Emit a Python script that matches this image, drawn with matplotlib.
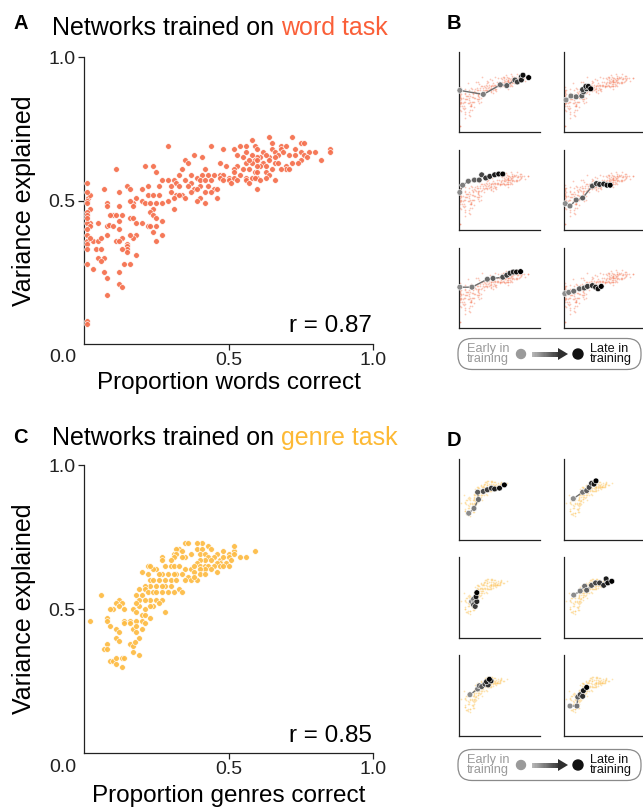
import numpy as np
import matplotlib
matplotlib.use("Agg")
import matplotlib.pyplot as plt
from matplotlib.patches import FancyBboxPatch, Polygon, Rectangle, Circle

plt.rcParams['font.family'] = ['Liberation Sans', 'DejaVu Sans']

W, H = 643, 807

# Panel A: word task networks (proportion words correct vs variance explained)
word_x = [
    0.29, 0.44, 0.48, 0.38, 0.41, 0.35, 0.36, 0.11, 0.21, 0.24,
    0.25, 0.47, 0.49, 0.42, 0.34, 0.33, 0.37, 0.39, 0.41, 0.43,
    0.45, 0.47, 0.48, 0.50, 0.27, 0.29, 0.31, 0.35, 0.37, 0.40,
    0.42, 0.44, 0.47, 0.48, 0.50, 0.32, 0.33, 0.36, 0.38, 0.40,
    0.43, 0.45, 0.46, 0.30, 0.30, 0.32, 0.34, 0.35, 0.37, 0.39,
    0.42, 0.44, 0.40, 0.39, 0.42, 0.46, 0.31, 0.33, 0.15, 0.16,
    0.20, 0.22, 0.26, 0.12, 0.07, 0.01, 0.015, 0.02, 0.01, 0.22,
    0.24, 0.26, 0.18, 0.20, 0.21, 0.17, 0.17, 0.29, 0.27, 0.25,
    0.23, 0.24, 0.16, 0.08, 0.08, 0.12, 0.02, 0.01, 0.01, 0.01,
    0.31, 0.23, 0.24, 0.25, 0.10, 0.11, 0.13, 0.09, 0.12, 0.16,
    0.17, 0.02, 0.01, 0.05, 0.08, 0.085, 0.10, 0.12, 0.18, 0.20,
    0.22, 0.23, 0.25, 0.27, 0.02, 0.24, 0.27, 0.18, 0.17, 0.16,
    0.13, 0.11, 0.12, 0.15, 0.15, 0.15, 0.15, 0.13, 0.01, 0.01,
    0.03, 0.05, 0.06, 0.08, 0.01, 0.01, 0.04, 0.06, 0.25, 0.18,
    0.05, 0.07, 0.06, 0.01, 0.03, 0.14, 0.16, 0.12, 0.07, 0.08,
    0.12, 0.13, 0.08, 0.01, 0.01, 0.01, 0.01, 0.02, 0.01, 0.58,
    0.64, 0.65, 0.72, 0.75, 0.76, 0.54, 0.56, 0.59, 0.60, 0.52,
    0.56, 0.62, 0.65, 0.68, 0.68, 0.70, 0.73, 0.75, 0.78, 0.80,
    0.85, 0.85, 0.82, 0.66, 0.69, 0.71, 0.73, 0.76, 0.77, 0.75,
    0.74, 0.72, 0.70, 0.70, 0.71, 0.67, 0.66, 0.64, 0.63, 0.61,
    0.60, 0.58, 0.59, 0.60, 0.62, 0.64, 0.66, 0.67, 0.68, 0.65,
    0.63, 0.61, 0.60, 0.58, 0.56, 0.57, 0.55, 0.53, 0.53, 0.52,
    0.55, 0.57, 0.59, 0.60, 0.63, 0.64, 0.60, 0.58, 0.56, 0.54,
    0.52, 0.52, 0.51, 0.53, 0.56, 0.57, 0.59, 0.61, 0.63, 0.66,
    0.60,
]
word_y = [
    0.69, 0.69, 0.68, 0.66, 0.65, 0.64, 0.63, 0.61, 0.62, 0.62,
    0.60, 0.63, 0.62, 0.61, 0.61, 0.59, 0.59, 0.58, 0.59, 0.59,
    0.59, 0.59, 0.59, 0.58, 0.57, 0.57, 0.57, 0.57, 0.56, 0.57,
    0.57, 0.57, 0.58, 0.57, 0.57, 0.56, 0.55, 0.55, 0.54, 0.55,
    0.55, 0.54, 0.54, 0.55, 0.53, 0.52, 0.52, 0.51, 0.53, 0.54,
    0.53, 0.53, 0.51, 0.50, 0.49, 0.51, 0.51, 0.52, 0.55, 0.54,
    0.54, 0.55, 0.55, 0.53, 0.54, 0.56, 0.51, 0.52, 0.50, 0.52,
    0.52, 0.52, 0.51, 0.50, 0.49, 0.49, 0.48, 0.50, 0.49, 0.49,
    0.49, 0.47, 0.50, 0.49, 0.48, 0.48, 0.47, 0.46, 0.45, 0.49,
    0.47, 0.46, 0.45, 0.44, 0.45, 0.45, 0.45, 0.45, 0.43, 0.44,
    0.44, 0.42, 0.42, 0.42, 0.41, 0.415, 0.41, 0.40, 0.42, 0.42,
    0.41, 0.41, 0.41, 0.43, 0.41, 0.39, 0.38, 0.38, 0.37, 0.38,
    0.37, 0.36, 0.36, 0.35, 0.34, 0.33, 0.32, 0.33, 0.38, 0.36,
    0.36, 0.36, 0.37, 0.38, 0.35, 0.33, 0.33, 0.33, 0.36, 0.31,
    0.30, 0.30, 0.29, 0.28, 0.26, 0.28, 0.28, 0.25, 0.25, 0.23,
    0.21, 0.20, 0.17, 0.08, 0.07, 0.53, 0.40, 0.37, 0.44, 0.71,
    0.72, 0.70, 0.72, 0.70, 0.70, 0.69, 0.69, 0.69, 0.68, 0.68,
    0.67, 0.67, 0.68, 0.69, 0.68, 0.69, 0.68, 0.67, 0.67, 0.67,
    0.68, 0.67, 0.64, 0.67, 0.67, 0.66, 0.66, 0.66, 0.65, 0.64,
    0.63, 0.63, 0.62, 0.61, 0.61, 0.66, 0.65, 0.65, 0.66, 0.65,
    0.65, 0.66, 0.64, 0.64, 0.63, 0.64, 0.63, 0.63, 0.61, 0.61,
    0.62, 0.62, 0.62, 0.63, 0.63, 0.64, 0.65, 0.66, 0.62, 0.61,
    0.61, 0.61, 0.60, 0.60, 0.60, 0.59, 0.58, 0.58, 0.58, 0.59,
    0.60, 0.58, 0.56, 0.57, 0.57, 0.56, 0.58, 0.57, 0.58, 0.57,
    0.54,
]

# Panel C: genre task networks
genre_x = [
    0.35, 0.36, 0.33, 0.32, 0.31, 0.32, 0.34, 0.37, 0.35, 0.34,
    0.31, 0.30, 0.27, 0.27, 0.25, 0.28, 0.30, 0.31, 0.33, 0.35,
    0.37, 0.36, 0.34, 0.32, 0.31, 0.29, 0.27, 0.26, 0.24, 0.22,
    0.23, 0.20, 0.22, 0.23, 0.24, 0.26, 0.28, 0.30, 0.32, 0.35,
    0.37, 0.30, 0.28, 0.27, 0.25, 0.23, 0.21, 0.19, 0.21, 0.18,
    0.20, 0.22, 0.24, 0.25, 0.27, 0.29, 0.31, 0.33, 0.34, 0.27,
    0.25, 0.23, 0.21, 0.19, 0.26, 0.24, 0.23, 0.21, 0.19, 0.18,
    0.06, 0.12, 0.11, 0.13, 0.10, 0.09, 0.12, 0.14, 0.28, 0.17,
    0.18, 0.20, 0.21, 0.23, 0.20, 0.18, 0.16, 0.14, 0.14, 0.16,
    0.17, 0.18, 0.20, 0.18, 0.21, 0.02, 0.08, 0.08, 0.09, 0.11,
    0.12, 0.11, 0.12, 0.19, 0.16, 0.17, 0.175, 0.17, 0.08, 0.07,
    0.08, 0.19, 0.09, 0.10, 0.11, 0.13, 0.14, 0.11, 0.13, 0.41,
    0.43, 0.39, 0.39, 0.41, 0.44, 0.46, 0.48, 0.50, 0.52, 0.52,
    0.54, 0.56, 0.59, 0.40, 0.42, 0.43, 0.45, 0.47, 0.48, 0.50,
    0.52, 0.51, 0.49, 0.47, 0.46, 0.44, 0.42, 0.40, 0.39, 0.38,
    0.40, 0.42, 0.43, 0.45, 0.47, 0.48, 0.50, 0.46, 0.44, 0.42,
    0.40, 0.38, 0.40, 0.42, 0.39, 0.38,
]
genre_y = [
    0.73, 0.73, 0.71, 0.71, 0.69, 0.69, 0.70, 0.69, 0.68, 0.68,
    0.68, 0.67, 0.68, 0.67, 0.64, 0.65, 0.65, 0.65, 0.65, 0.64,
    0.64, 0.61, 0.62, 0.62, 0.62, 0.62, 0.62, 0.62, 0.64, 0.65,
    0.65, 0.63, 0.62, 0.60, 0.60, 0.60, 0.60, 0.60, 0.60, 0.60,
    0.60, 0.58, 0.58, 0.58, 0.58, 0.58, 0.58, 0.57, 0.57, 0.55,
    0.55, 0.56, 0.56, 0.56, 0.56, 0.56, 0.56, 0.57, 0.56, 0.53,
    0.53, 0.53, 0.53, 0.53, 0.52, 0.51, 0.51, 0.50, 0.51, 0.52,
    0.55, 0.53, 0.52, 0.52, 0.50, 0.50, 0.51, 0.50, 0.49, 0.50,
    0.49, 0.48, 0.48, 0.47, 0.46, 0.46, 0.46, 0.46, 0.45, 0.45,
    0.43, 0.44, 0.43, 0.42, 0.45, 0.46, 0.47, 0.46, 0.44, 0.43,
    0.42, 0.40, 0.39, 0.40, 0.38, 0.37, 0.385, 0.35, 0.38, 0.36,
    0.36, 0.34, 0.32, 0.32, 0.33, 0.33, 0.33, 0.31, 0.30, 0.73,
    0.72, 0.73, 0.71, 0.71, 0.71, 0.69, 0.70, 0.69, 0.70, 0.72,
    0.68, 0.68, 0.70, 0.69, 0.69, 0.68, 0.68, 0.67, 0.68, 0.68,
    0.69, 0.67, 0.66, 0.66, 0.66, 0.67, 0.67, 0.67, 0.66, 0.65,
    0.65, 0.65, 0.65, 0.65, 0.65, 0.65, 0.65, 0.63, 0.64, 0.64,
    0.64, 0.63, 0.62, 0.62, 0.60, 0.61,
]

# Panels B / D: training trajectories of six example networks (early -> late)
word_traj_x = [
    [0.01, 0.30, 0.51, 0.59, 0.69, 0.72, 0.77, 0.77, 0.79, 0.86],
    [0.025, 0.086, 0.15, 0.22, 0.24, 0.23, 0.28, 0.27, 0.30, 0.33],
    [0.01, 0.045, 0.115, 0.19, 0.25, 0.28, 0.33, 0.38, 0.44, 0.49, 0.54],
    [0.016, 0.074, 0.15, 0.23, 0.35, 0.40, 0.44, 0.49, 0.53, 0.57],
    [0.01, 0.16, 0.35, 0.42, 0.54, 0.59, 0.63, 0.67, 0.71, 0.76],
    [0.01, 0.058, 0.12, 0.19, 0.25, 0.29, 0.35, 0.39, 0.42, 0.46],
]
word_traj_y = [
    [0.52, 0.47, 0.59, 0.58, 0.65, 0.625, 0.69, 0.65, 0.71, 0.68],
    [0.40, 0.45, 0.44, 0.45, 0.50, 0.53, 0.54, 0.57, 0.57, 0.54],
    [0.47, 0.56, 0.61, 0.625, 0.625, 0.69, 0.65, 0.67, 0.69, 0.70, 0.70],
    [0.33, 0.30, 0.375, 0.40, 0.55, 0.58, 0.57, 0.575, 0.56, 0.56],
    [0.51, 0.51, 0.61, 0.62, 0.635, 0.66, 0.685, 0.70, 0.70, 0.705],
    [0.43, 0.445, 0.46, 0.49, 0.50, 0.52, 0.53, 0.51, 0.49, 0.52],
]
genre_traj_x = [
    [0.12, 0.185, 0.24, 0.23, 0.30, 0.35, 0.40, 0.44, 0.50, 0.56],
    [0.115, 0.23, 0.28, 0.31, 0.34, 0.37, 0.395],
    [0.155, 0.18, 0.19, 0.18, 0.20, 0.22, 0.21, 0.22],
    [0.12, 0.20, 0.255, 0.28, 0.34, 0.39, 0.44, 0.49, 0.52, 0.54, 0.59],
    [0.135, 0.23, 0.25, 0.28, 0.32, 0.36, 0.34, 0.395, 0.375],
    [0.074, 0.16, 0.17, 0.20, 0.23, 0.24, 0.28],
]
genre_traj_y = [
    [0.33, 0.39, 0.50, 0.59, 0.60, 0.62, 0.64, 0.63, 0.64, 0.68],
    [0.51, 0.59, 0.61, 0.65, 0.70, 0.69, 0.73],
    [0.45, 0.48, 0.43, 0.41, 0.39, 0.45, 0.51, 0.56],
    [0.53, 0.58, 0.64, 0.59, 0.65, 0.68, 0.68, 0.65, 0.73, 0.68, 0.70],
    [0.51, 0.58, 0.62, 0.61, 0.64, 0.63, 0.67, 0.68, 0.70],
    [0.37, 0.37, 0.48, 0.51, 0.49, 0.56, 0.60],
]

WORD_COL = '#f56e4b'
WORD_TITLE = '#fa5f38'
GENRE_COL = '#fdbb42'
GENRE_TITLE = '#fdb934'

fig = plt.figure(figsize=(W / 100, H / 100), dpi=100)


def px_axes(l, t, r, b):
    # axes from pixel box (left, top, right, bottom)
    return fig.add_axes([l / W, 1 - b / H, (r - l) / W, (b - t) / H])


def style_spines(ax, lw=0.9):
    for s in ['top', 'right']:
        ax.spines[s].set_visible(False)
    for s in ['left', 'bottom']:
        ax.spines[s].set_color('#222222')
        ax.spines[s].set_linewidth(lw)


def main_panel(box, xs, ys, color):
    ax = px_axes(*box)
    ax.scatter(xs, ys, s=17, c=color, edgecolors='white', linewidths=0.5,
               alpha=0.92, clip_on=False, zorder=3)
    ax.set_xlim(0, 1)
    ax.set_ylim(0, 1)
    ax.set_xticks([0.5, 1.0])
    ax.set_yticks([0.5, 1.0])
    ax.set_xticklabels(['0.5', '1.0'])
    ax.set_yticklabels(['0.5', '1.0'])
    ax.tick_params(length=4, width=0.9, labelsize=14, pad=2,
                   colors='#222222', labelcolor='#222222')
    style_spines(ax)
    return ax


def small_panel(box, xs, ys, color, tx, ty):
    ax = px_axes(*box)
    ax.scatter(xs, ys, s=1.5, c=color, alpha=0.4, linewidths=0, zorder=2)
    ax.plot(tx, ty, color='#707070', lw=1.0, zorder=3)
    n = len(tx)
    greys = [str(v) for v in np.linspace(0.55, 0.0, n)]
    ax.scatter(tx, ty, s=17, c=greys, edgecolors='white', linewidths=0.4,
               zorder=4, clip_on=False)
    ax.set_xlim(0, 1)
    ax.set_ylim(0, 1)
    ax.set_xticks([])
    ax.set_yticks([])
    style_spines(ax)
    return ax


# main scatter panels
main_panel((84, 57, 373, 344), word_x, word_y, WORD_COL)
main_panel((84, 465, 373, 753), genre_x, genre_y, GENRE_COL)

# small trajectory panels
cols = [459, 564]
rows_b = [52, 150, 248]
rows_d = [459, 557, 655]
for i in range(6):
    r, c = divmod(i, 2)
    l, t = cols[c], rows_b[r]
    small_panel((l, t, l + 81, t + 80), word_x, word_y, WORD_COL,
                word_traj_x[i], word_traj_y[i])
    t = rows_d[r]
    small_panel((l, t, l + 81, t + 81), genre_x, genre_y, GENRE_COL,
                genre_traj_x[i], genre_traj_y[i])

# overlay in pixel coords for text and legends
ov = fig.add_axes([0, 0, 1, 1])
ov.set_xlim(0, W)
ov.set_ylim(H, 0)
ov.axis('off')

fig.canvas.draw()
renderer = fig.canvas.get_renderer()


def title(y, letter, task, col, ly):
    ov.text(13, ly, letter, fontsize=14.5, fontweight='bold', va='baseline', ha='left')
    t1 = ov.text(52, y, 'Networks trained on', fontsize=18, va='baseline', ha='left')
    bb = t1.get_window_extent(renderer=renderer)
    x_end = ov.transData.inverted().transform((bb.x1, bb.y0))[0]
    ov.text(x_end + 6.5, y, task, fontsize=18, color=col, va='baseline', ha='left')


title(35, 'A', 'word task', WORD_TITLE, 29)
title(445, 'C', 'genre task', GENRE_TITLE, 443)
ov.text(447, 29, 'B', fontsize=14.5, fontweight='bold', va='baseline', ha='left')
ov.text(447, 446, 'D', fontsize=14.5, fontweight='bold', va='baseline', ha='left')

for yc, xb, xl in [(201, 389, 'Proportion words correct'),
                   (609, 802, 'Proportion genres correct')]:
    ov.text(24, yc, 'Variance explained', fontsize=18, rotation=90,
            ha='center', va='center')
    ov.text(229, xb, xl, fontsize=17.5, ha='center', va='baseline')

ov.text(63, 358, '0.0', fontsize=14, ha='center', va='center', color='#222222')
ov.text(63, 768, '0.0', fontsize=14, ha='center', va='center', color='#222222')
ov.text(372, 332, 'r = 0.87', fontsize=17.5, ha='right', va='baseline')
ov.text(372, 742, 'r = 0.85', fontsize=17.5, ha='right', va='baseline')


def legend_box(yc):
    box = FancyBboxPatch((458, yc - 15.5), 183, 31,
                         boxstyle='round,pad=0,rounding_size=14',
                         fc='white', ec='#8a8a8a', lw=0.9)
    ov.add_patch(box)
    ov.text(467, yc, 'Early in\ntraining', fontsize=9.2, color='#9a9a9a',
            ha='left', va='center', linespacing=0.82)
    ov.add_patch(Circle((521, yc), 4.5, color='#9a9a9a'))
    n = 24
    x0, x1 = 532, 559
    for k in range(n):
        g = 0.72 - 0.5 * k / (n - 1)
        ov.add_patch(Rectangle((x0 + (x1 - x0) * k / n, yc - 2.5),
                               (x1 - x0) / n + 0.3, 5, color=str(g), lw=0))
    ov.add_patch(Polygon([(558, yc - 6), (568, yc), (558, yc + 6)],
                         closed=True, color='#2e2e2e', lw=0))
    ov.add_patch(Circle((578, yc), 5, color='#111111'))
    ov.text(590, yc, 'Late in\ntraining', fontsize=9.2, color='#111111',
            ha='left', va='center', linespacing=0.82)


legend_box(354)
legend_box(765)

fig.savefig('out.png', dpi=100)
